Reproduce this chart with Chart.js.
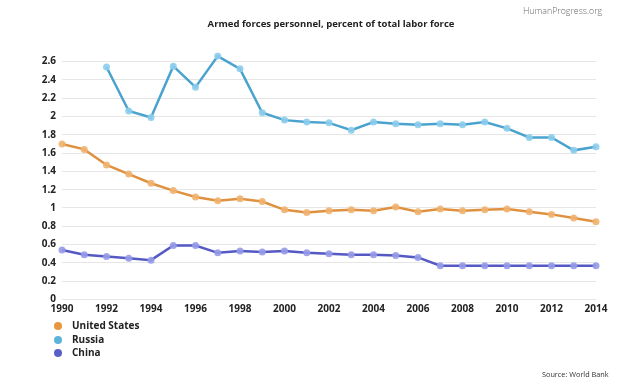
<!DOCTYPE html>
<html>
<head>
<meta charset="utf-8">
<script src="https://cdn.jsdelivr.net/npm/chart.js@4/dist/chart.umd.min.js"></script>
<style>
html,body{margin:0;padding:0;background:#fff;}
#wrap{position:relative;width:624px;height:386px;}
</style>
</head>
<body>
<div id="wrap"><canvas id="c" width="624" height="386"></canvas></div>
<script>
const years = [1990,1991,1992,1993,1994,1995,1996,1997,1998,1999,2000,2001,2002,2003,2004,2005,2006,2007,2008,2009,2010,2011,2012,2013,2014];
const unitedStates = [1.70,1.64,1.47,1.37,1.27,1.19,1.12,1.08,1.10,1.07,0.98,0.95,0.97,0.98,0.97,1.01,0.96,0.99,0.97,0.98,0.99,0.96,0.93,0.89,0.85];
const russia = [null,null,2.54,2.06,1.99,2.55,2.32,2.66,2.52,2.04,1.96,1.94,1.93,1.85,1.94,1.92,1.91,1.92,1.91,1.94,1.87,1.77,1.77,1.63,1.67];
const china = [0.54,0.49,0.47,0.45,0.43,0.59,0.59,0.51,0.53,0.52,0.53,0.51,0.50,0.49,0.49,0.48,0.46,0.37,0.37,0.37,0.37,0.37,0.37,0.37,0.37];
const seriesNames = ["United States","Russia","China"];
const yTicks = [0,0.2,0.4,0.6,0.8,1,1.2,1.4,1.6,1.8,2,2.2,2.4,2.6];
const titleText = "Armed forces personnel, percent of total labor force";
const brandText = "HumanProgress.org";
const sourceText = "Source: World Bank";

const FONT = "'Open Sans', sans-serif";
const lineColors = ["#e0913f","#4aa3cf","#5459c4"];
const pointColors = ["rgba(240,178,112,0.9)","rgba(140,205,236,0.9)","rgba(150,155,232,0.9)"];
const legendColors = ["#e8973f","#5ab4dc","#5a5fc8"];

function ds(label, data, i){
  return {
    label, data,
    borderColor: lineColors[i],
    backgroundColor: pointColors[i],
    pointBackgroundColor: pointColors[i],
    pointBorderWidth: 0,
    pointRadius: 3.5,
    borderWidth: 2.5,
    tension: 0,
    spanGaps: false
  };
}

const extras = {
  id: 'extras',
  afterDraw(chart){
    const ctx = chart.ctx;
    ctx.save();
    ctx.fillStyle = '#222';
    ctx.font = "bold 9.5px " + FONT;
    ctx.textAlign = 'center';
    ctx.textBaseline = 'middle';
    ctx.fillText(titleText, 331, 24);
    ctx.fillStyle = '#666';
    ctx.font = "300 8.8px " + FONT;
    ctx.textAlign = 'left';
    ctx.fillText(brandText, 523, 11);
    ctx.fillStyle = '#333';
    ctx.font = "7.3px " + FONT;
    ctx.fillText(sourceText, 542, 375);
    const rows = [326, 340, 353];
    chart.data.datasets.forEach((d, i) => {
      ctx.beginPath();
      ctx.fillStyle = legendColors[i];
      ctx.arc(58, rows[i], 4, 0, Math.PI*2);
      ctx.fill();
      ctx.fillStyle = '#222';
      ctx.font = "bold 10px " + FONT;
      ctx.fillText(d.label, 72, rows[i] + 0.5);
    });
    ctx.restore();
  }
};

new Chart(document.getElementById('c'), {
  type: 'line',
  data: {
    labels: years,
    datasets: [
      ds(seriesNames[0], unitedStates, 0),
      ds(seriesNames[1], russia, 1),
      ds(seriesNames[2], china, 2)
    ]
  },
  options: {
    responsive: false,
    animation: false,
    layout: { padding: { left: 0, right: 28, top: 52.4, bottom: 66.5 } },
    plugins: { legend: { display: false }, title: { display: false }, tooltip: { enabled: false } },
    scales: {
      x: {
        type: 'category',
        offset: false,
        grid: { display: false, drawTicks: false },
        border: { display: false },
        afterFit(s){ s.height = 20; },
        ticks: {
          autoSkip: false, maxRotation: 0, padding: 4,
          color: '#222', font: { family: FONT, size: 10, weight: 'bold' },
          callback(v, i){ const y = years[i]; return (y % 2 === 0) ? String(y) : ''; }
        }
      },
      y: {
        min: 0, max: 2.7,
        afterBuildTicks(s){ s.ticks = yTicks.map(v => ({ value: v })); },
        afterFit(s){ s.width = 62; },
        grid: { color: '#e6e6e6', lineWidth: 1, drawTicks: false },
        border: { display: false },
        ticks: {
          padding: 6,
          color: '#222', font: { family: FONT, size: 10, weight: 'bold' },
          callback(v){ return String(Math.round(v*10)/10); }
        }
      }
    }
  },
  plugins: [extras]
});
</script>
</body>
</html>
